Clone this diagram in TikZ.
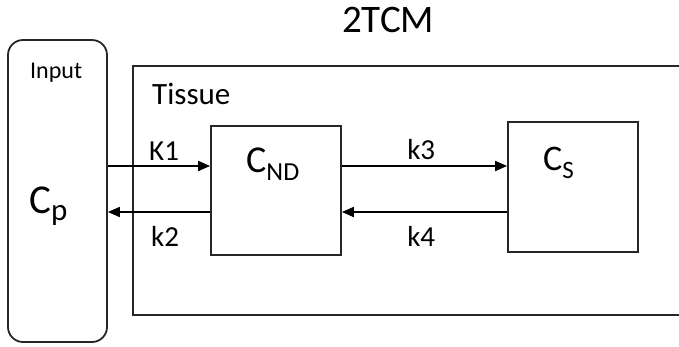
\documentclass[tikz,border=0pt]{standalone}
\usepackage{fontspec}
\setmainfont{Carlito}
\usetikzlibrary{arrows.meta}

\tikzset{
  box/.style={draw=black!85,line width=1.8pt,inner sep=0pt},
  wall/.style={draw=black!85,line width=1.8pt},
  flow/.style={-{Triangle[length=12pt,width=10pt]},line width=1.8pt},
  rate/.style={inner sep=0pt,font=\fontsize{29}{31}\selectfont},
}

\begin{document}
\begin{tikzpicture}[x=1pt,y=-1pt]
			\useasboundingbox (0,0) rectangle (679,346);
			
			\def\ytop{166}
			\def\ybot{212}
			
			% title
			\node[anchor=base west,inner sep=0pt] (title) at (342,32) {\fontsize{39}{42}\selectfont 2TCM};
			
			% input compartment
			\node[box,rounded corners=15pt,minimum width=99pt,minimum height=302pt] (inp) at (57.5,191) {};
			\node[anchor=base west,inner sep=0pt] (inptxt) at (30,78) {\fontsize{24}{26}\selectfont Input};
			\node[anchor=base west,inner sep=0pt] (cp) at (29,213) {\fontsize{41}{44}\selectfont C\raisebox{-7pt}{\fontsize{31}{33}\selectfont p}};
			
			% tissue, runs off the right edge
			\coordinate (tr) at (679,66);
			\coordinate (tl) at (133,66);
			\coordinate (bl) at (133,315);
			\coordinate (br) at (679,315);
			\draw[wall] (tr) -- (tl) -- (bl) -- (br);
			\node[anchor=base west,inner sep=0pt] (tistxt) at (152,104) {\fontsize{31}{33}\selectfont Tissue};
			
			% compartments
			\node[box,minimum width=130pt,minimum height=129pt] (cnd) at (276,190.5) {};
			\node[anchor=base west,inner sep=0pt] (cndtxt) at (246,172) {\fontsize{38}{40}\selectfont C\raisebox{-8pt}{\fontsize{26}{28}\selectfont ND}};
			\node[box,minimum width=130pt,minimum height=130pt] (cs) at (573,187) {};
			\node[anchor=base west,inner sep=0pt] (cstxt) at (543,170) {\fontsize{36}{38}\selectfont C\raisebox{-8pt}{\fontsize{25}{27}\selectfont S}};
			
			% exchange
			\draw[flow] (inp.east |- 0,\ytop) -- (cnd.west |- 0,\ytop) node[rate,pos=.55,above=5pt]{K1};
			\draw[flow] (cnd.west |- 0,\ybot) -- (inp.east |- 0,\ybot) node[rate,pos=.44,below=13pt]{k2};
			\draw[flow] (cnd.east |- 0,\ytop) -- (cs.west |- 0,\ytop) node[rate,pos=.48,above=5pt]{k3};
			\draw[flow] (cs.west |- 0,\ybot) -- (cnd.east |- 0,\ybot) node[rate,pos=.52,below=13pt]{k4};
		\end{tikzpicture}
\end{document}
